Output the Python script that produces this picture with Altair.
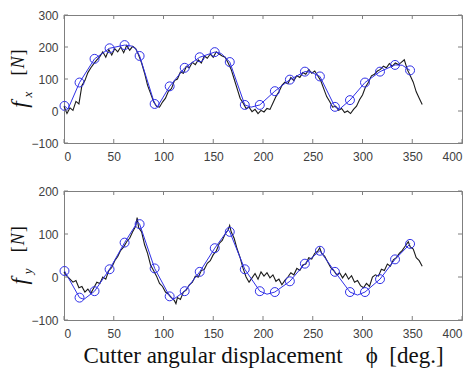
import altair as alt
import pandas as pd

# ---------------- data ----------------
x_ticks = [0, 50, 100, 150, 200, 250, 300, 350, 400]
fx_ticks = [-100, 0, 100, 200, 300]
fy_ticks = [-100, 0, 100, 200]

# measured fx (black)
fx_meas_deg = [0, 3, 6, 9, 12, 15, 18, 21, 24, 27, 30, 33, 36, 39, 42, 45, 48, 51, 54, 57,
               60, 63, 66, 69, 72, 75, 78, 81, 84, 87, 90, 93, 96, 99, 102, 105, 108, 111, 114, 117,
               120, 123, 126, 129, 132, 135, 138, 141, 144, 147, 150, 153, 156, 159, 162, 165, 168, 171, 174, 177,
               180, 183, 186, 189, 192, 195, 198, 201, 204, 207, 210, 213, 216, 219, 222, 225, 228, 231, 234, 237,
               240, 243, 246, 249, 252, 255, 258, 261, 264, 267, 270, 273, 276, 279, 282, 285, 288, 291, 294, 297,
               300, 303, 306, 309, 312, 315, 318, 321, 324, 327, 330, 333, 336, 339, 342, 345, 348, 351, 354, 357, 360]
fx_meas_val = [15, -8, 10, 2, 30, 22, 80, 95, 120, 135, 148, 160, 170, 185, 168, 192, 175, 195, 185, 200,
               182, 205, 190, 202, 195, 175, 150, 118, 80, 55, 30, 15, 12, 28, 40, 62, 70, 95, 100, 122,
               118, 140, 135, 152, 145, 160, 150, 172, 165, 178, 168, 185, 178, 172, 168, 150, 130, 100, 70, 40,
               25, 8, 12, -2, 5, -8, 2, -3, 8, 5, 25, 45, 60, 80, 90, 85, 105, 95, 110, 105,
               120, 115, 130, 118, 125, 110, 95, 70, 45, 30, 12, 15, 2, 8, -5, 0, -8, 5, 15, 35,
               50, 75, 90, 110, 115, 125, 130, 140, 135, 148, 140, 150, 145, 152, 160, 130, 110, 90, 60, 40, 20]

# predicted fx (blue line)
fx_pred_deg = [0.5, 4, 15.6, 30.7, 45.8, 60.9, 68, 72, 76, 91.1, 94, 106.2, 121.3, 136.4, 151.5, 158,
               166.6, 181.7, 188, 196.8, 211.9, 227, 242.1, 248, 257.2, 272.3, 277, 287.4, 302.5, 317.6,
               332.7, 340, 347.8]
fx_pred_val = [16, 6, 89, 163, 196, 206, 203, 195, 172, 22, 14, 77, 135, 168, 184, 180,
               153, 19, 12, 19, 62, 98, 123, 122, 108, 13, 6, 34, 89, 123,
               144, 143, 127]

# predicted markers (blue circles)
mark_deg = [0.5, 15.6, 30.7, 45.8, 60.9, 76, 91.1, 106.2, 121.3, 136.4, 151.5, 166.6,
            181.7, 196.8, 211.9, 227, 242.1, 257.2, 272.3, 287.4, 302.5, 317.6, 332.7, 347.8]
fx_mark_val = [16, 89, 163, 196, 206, 172, 22, 77, 135, 168, 184, 153,
               19, 19, 62, 98, 123, 108, 13, 34, 89, 123, 144, 127]

# measured fy (black)
fy_meas_deg = [0, 3, 6, 9, 12, 15, 18, 21, 24, 27, 30, 33, 36, 39, 42, 45, 48, 51, 54, 57,
               60, 63, 66, 69, 72, 73.5, 75, 78, 81, 84, 87, 90, 93, 96, 99, 102, 105, 108, 111, 112.5,
               114, 117, 120, 123, 126, 129, 132, 135, 138, 141, 144, 147, 150, 153, 156, 159, 162, 165, 166.5, 168,
               171, 174, 177, 180, 183, 186, 189, 192, 195, 198, 201, 204, 207, 210, 213, 216, 219, 222, 225, 228,
               231, 234, 237, 240, 243, 246, 249, 252, 255, 257, 259, 262, 265, 268, 271, 274, 277, 280, 283, 286,
               289, 292, 295, 298, 301, 304, 307, 310, 313, 316, 319, 322, 325, 328, 331, 334, 337, 340, 343, 346,
               348, 351, 354, 357, 360]
fy_meas_val = [12, 2, -5, -12, -8, -25, -22, -35, -28, -38, -25, -12, -15, 0, -5, 15, 22, 38, 48, 62,
               70, 82, 90, 105, 118, 138, 115, 105, 75, 55, 28, 15, 2, -15, -22, -35, -40, -48, -55, -62,
               -48, -52, -35, -30, -18, -12, 2, 0, 15, 18, 32, 38, 52, 60, 78, 85, 100, 110, 120, 105,
               90, 65, 45, 20, 0, -12, -2, 8, -5, 12, 2, 10, -2, 5, -10, -5, -18, -8, 0, 10,
               5, 20, 15, 28, 30, 45, 42, 55, 60, 68, 55, 48, 35, 22, 15, 5, 10, -2, 8, -5,
               3, -12, -8, -20, -25, -15, -22, 0, 5, 2, 18, 15, 30, 25, 40, 45, 55, 62, 72, 82,
               70, 65, 45, 38, 25]

# predicted fy (blue line)
fy_pred_deg = [0.5, 15.6, 20, 30.7, 45.8, 60.9, 74, 76, 91.1, 106.2, 110, 121.3, 136.4, 151.5, 165,
               166.6, 181.7, 196.8, 204, 211.9, 227, 242.1, 257.2, 272.3, 287.4, 295, 302.5, 317.6,
               332.7, 347.8]
fy_pred_val = [14, -48, -52, -33, 18, 80, 128, 123, 20, -45, -52, -33, 12, 67, 110,
               105, 18, -33, -40, -35, -10, 31, 61, 12, -35, -42, -35, -5,
               41, 77]

fy_mark_val = [14, -48, -33, 18, 80, 123, 20, -45, -33, 12, 67, 105,
               18, -33, -35, -10, 31, 61, 12, -35, -35, -5, 41, 77]

# ---------------- style ----------------
W = 398
BLUE = "#3030e8"
GREY = "#7f7f7f"
SERIF = "Liberation Serif"


def panel(meas_d, meas_v, pred_d, pred_v, mark_v, ydom, yticks, sub, H, x_title):
    xs = alt.Scale(domain=[0, 400], nice=False)
    ys = alt.Scale(domain=ydom, nice=False)
    if x_title:
        xaxis = alt.Axis(values=x_ticks, title=x_title, labelPadding=8,
                         titleFont=SERIF, titleFontSize=23, titleFontWeight="normal",
                         titleColor="#111111", titlePadding=5)
    else:
        xaxis = alt.Axis(values=x_ticks, title=None, labelPadding=8)
    yaxis = alt.Axis(values=yticks, title=None, labelPadding=6)

    def X():
        return alt.X("a:Q", scale=xs, axis=xaxis)

    def Y():
        return alt.Y("v:Q", scale=ys, axis=yaxis)

    meas = pd.DataFrame({"a": meas_d, "v": meas_v})
    pred = pd.DataFrame({"a": pred_d, "v": pred_v})
    marks = pd.DataFrame({"a": mark_deg, "v": mark_v})
    xt = pd.DataFrame({"a": x_ticks})
    yt = pd.DataFrame({"v": yticks})

    black = alt.Chart(meas).mark_line(color="#1a1a1a", strokeWidth=1.1).encode(
        x=X(), y=Y(), order="a:Q")
    blue = alt.Chart(pred).mark_line(color=BLUE, strokeWidth=1).encode(
        x=X(), y=Y(), order="a:Q")
    circ = alt.Chart(marks).mark_point(shape="circle", filled=False, size=80,
                                       color=BLUE, strokeWidth=1, opacity=1).encode(
        x=X(), y=Y())
    # inward ticks (MATLAB box style)
    tb = alt.Chart(xt).mark_rule(color=GREY, strokeWidth=1).encode(
        x=X(), y=alt.value(H), y2=alt.value(H - 4))
    tt = alt.Chart(xt).mark_rule(color=GREY, strokeWidth=1).encode(
        x=X(), y=alt.value(0), y2=alt.value(4))
    tl = alt.Chart(yt).mark_rule(color=GREY, strokeWidth=1).encode(
        y=Y(), x=alt.value(0), x2=alt.value(4))
    tr = alt.Chart(yt).mark_rule(color=GREY, strokeWidth=1).encode(
        y=Y(), x=alt.value(W), x2=alt.value(W - 4))

    # y title: f_sub [N]
    yc = H * 0.70

    def txt(s, size, italic, dx, dy):
        kw = dict(font=SERIF, fontSize=size, angle=270, color="#111111",
                  align="center", baseline="middle")
        if italic:
            kw["fontStyle"] = "italic"
        return alt.Chart(pd.DataFrame({"t": [s]})).mark_text(**kw).encode(
            text="t:N", x=alt.value(dx), y=alt.value(yc + dy))

    t_f = txt("f", 23, True, -44, 0)
    t_s = txt(sub, 13, True, -36, -10)
    t_b1 = txt("[", 18, False, -45, -32)
    t_n = txt("N", 18, True, -45, -42)
    t_b2 = txt("]", 18, False, -45, -52)

    return alt.layer(black, blue, circ, tb, tt, tl, tr, t_f, t_s, t_b1, t_n, t_b2).properties(
        width=W, height=H)


top = panel(fx_meas_deg, fx_meas_val, fx_pred_deg, fx_pred_val, fx_mark_val,
            [-100, 300], fx_ticks, "x", 128, None)
bottom = panel(fy_meas_deg, fy_meas_val, fy_pred_deg, fy_pred_val, fy_mark_val,
               [-100, 200], fy_ticks, "y", 129,
               "Cutter angular displacement\u00a0\u00a0\u00a0\u00a0ϕ\u00a0\u00a0[deg.]")

chart = alt.vconcat(top, bottom, spacing=21).properties(
    padding={"left": 0, "top": 0, "right": 0, "bottom": 0}
).configure_view(stroke=GREY, strokeWidth=1).configure_axis(
    domainColor=GREY, labelFont="Liberation Sans", labelFontSize=12, labelColor="#404040",
    ticks=False, grid=False,
)

chart.save("out.html", embed_options={"renderer": "svg", "actions": False})
